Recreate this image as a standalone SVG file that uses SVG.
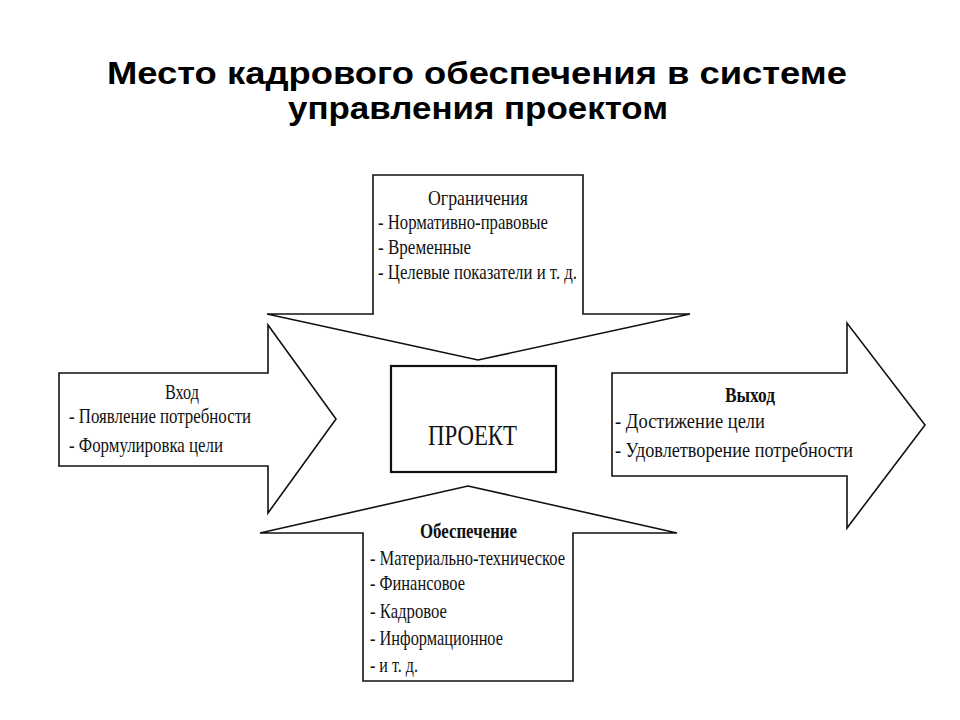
<svg xmlns="http://www.w3.org/2000/svg" width="960" height="720" viewBox="0 0 960 720">
<style>
.shape{fill:#fff;stroke:#111;stroke-width:1.6;stroke-linejoin:miter}
.title{font-family:"Liberation Sans",Arial,sans-serif;font-weight:bold;font-size:32px;fill:#000}
.t{font-family:"Liberation Serif","Times New Roman",serif;font-size:21px;fill:#111}
.b{font-weight:bold}
.p{font-family:"Liberation Serif","Times New Roman",serif;font-size:30px;fill:#111}
</style>
<rect width="960" height="720" fill="#fff"/>
<g id="title">
<text class="title" x="107" y="84" textLength="740" lengthAdjust="spacingAndGlyphs">Место кадрового обеспечения в системе</text>
<text class="title" x="288" y="119" textLength="380" lengthAdjust="spacingAndGlyphs">управления проектом</text>
</g>
<g id="connectors"></g>
<g id="constraints">
<polygon class="shape" points="373,175 583,175 583,314 690,314 478,360 267,314 373,314"/>
<text class="t" x="428" y="205" textLength="100" lengthAdjust="spacingAndGlyphs">Ограничения</text>
<text class="t" x="378" y="229" textLength="170" lengthAdjust="spacingAndGlyphs">- Нормативно-правовые</text>
<text class="t" x="378" y="254" textLength="93" lengthAdjust="spacingAndGlyphs">- Временные</text>
<text class="t" x="378" y="279" textLength="199" lengthAdjust="spacingAndGlyphs">- Целевые показатели и т. д.</text>
</g>
<g id="input">
<polygon class="shape" points="59,373 268,373 268,325 336,419 268,513 268,466 59,466"/>
<text class="t" x="165" y="399" textLength="34" lengthAdjust="spacingAndGlyphs">Вход</text>
<text class="t" x="69" y="423" textLength="182" lengthAdjust="spacingAndGlyphs">- Появление потребности</text>
<text class="t" x="69" y="452" textLength="154" lengthAdjust="spacingAndGlyphs">- Формулировка цели</text>
</g>
<g id="output">
<polygon class="shape" points="612,373 847,373 847,323 925,425 847,528 847,476 612,476"/>
<text class="t b" x="725" y="402" textLength="50" lengthAdjust="spacingAndGlyphs">Выход</text>
<text class="t" x="615" y="428" textLength="150" lengthAdjust="spacingAndGlyphs">- Достижение цели</text>
<text class="t" x="615" y="457" textLength="238" lengthAdjust="spacingAndGlyphs">- Удовлетворение потребности</text>
</g>
<g id="resources">
<polygon class="shape" points="468,486 677,533 573,533 573,681 363,681 363,533 260,533"/>
<text class="t b" x="420" y="538" textLength="97" lengthAdjust="spacingAndGlyphs">Обеспечение</text>
<text class="t" x="370" y="565" textLength="195" lengthAdjust="spacingAndGlyphs">- Материально-техническое</text>
<text class="t" x="370" y="590" textLength="95" lengthAdjust="spacingAndGlyphs">- Финансовое</text>
<text class="t" x="370" y="618" textLength="77" lengthAdjust="spacingAndGlyphs">- Кадровое</text>
<text class="t" x="370" y="645" textLength="133" lengthAdjust="spacingAndGlyphs">- Информационное</text>
<text class="t" x="370" y="672" textLength="48" lengthAdjust="spacingAndGlyphs">- и т. д.</text>
</g>
<g id="project">
<rect x="391" y="366" width="165" height="106" fill="#fff" stroke="#111" stroke-width="2.2"/>
<text class="p" x="428" y="445" textLength="89" lengthAdjust="spacingAndGlyphs">ПРОЕКТ</text>
</g>
</svg>
